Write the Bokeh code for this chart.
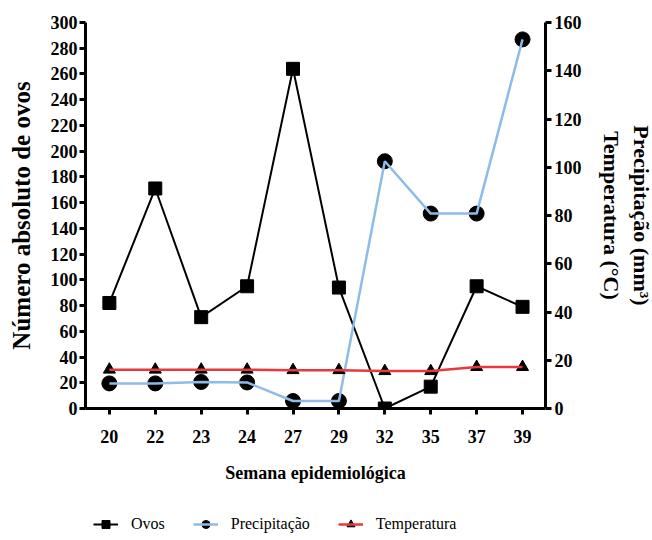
import math
from bokeh.plotting import figure
from bokeh.layouts import column
from bokeh.models import (Range1d, LinearAxis, FixedTicker, Legend, LegendItem,
                          ColumnDataSource)
from bokeh.embed import file_html
from bokeh.resources import INLINE

# ---- data ----
weeks = ["20", "22", "23", "24", "27", "29", "32", "35", "37", "39"]
ovos = [82, 171, 71, 95, 264, 94, 0, 17, 95, 79]
precipitacao = [10.4, 10.4, 11.0, 10.8, 3.1, 3.1, 102.5, 80.8, 80.8, 153.0]
temperatura = [16.1, 16.1, 16.1, 16.1, 15.9, 15.9, 15.5, 15.5, 17.2, 17.2]
left_ticks = list(range(0, 301, 20))
right_ticks = list(range(0, 161, 20))

pos = list(range(len(weeks)))
src = ColumnDataSource(dict(x=pos, ovos=ovos, prec=precipitacao, temp=temperatura))

FONT = "Liberation Serif"

p = figure(width=650, height=500, output_backend="svg", toolbar_location=None,
           x_range=Range1d(-0.52, 9.5), y_range=Range1d(0, 300),
           min_border_left=85, min_border_top=22, min_border_right=105,
           min_border_bottom=92, y_axis_location=None)
p.frame_width = 460
p.frame_height = 386
p.outline_line_color = None
p.xgrid.visible = False
p.ygrid.visible = False
p.extra_y_ranges = {"right": Range1d(0, 160)}

def style_axis(ax):
    ax.axis_line_width = 3
    ax.axis_line_color = "black"
    ax.major_tick_line_width = 3
    ax.major_tick_line_color = "black"
    ax.major_tick_out = 6
    ax.major_tick_in = 0
    ax.minor_tick_line_color = None
    ax.major_label_text_font = FONT
    ax.major_label_text_font_style = "bold"
    ax.major_label_text_font_size = "18px"
    ax.major_label_text_color = "black"
    ax.axis_label_text_font = FONT
    ax.axis_label_text_font_style = "bold"
    ax.axis_label_text_color = "black"

# x axis
xa = p.xaxis[0]
style_axis(xa)
xa.ticker = FixedTicker(ticks=pos)
xa.major_label_overrides = {i: w for i, w in zip(pos, weeks)}
xa.major_label_standoff = 15
xa.axis_label = "Semana epidemiológica"
xa.axis_label_text_font_size = "18px"
xa.axis_label_standoff = 17

# left axis
ya = LinearAxis(ticker=FixedTicker(ticks=left_ticks))
style_axis(ya)
ya.major_label_standoff = 2
ya.axis_label = "Número absoluto de ovos"
ya.axis_label_text_font_size = "25px"
ya.axis_label_standoff = 13
p.add_layout(ya, "left")

# right axis
yr = LinearAxis(y_range_name="right", ticker=FixedTicker(ticks=right_ticks))
style_axis(yr)
yr.major_label_standoff = 3
yr.axis_label = "Precipitação (mm³)\nTemperatura (°C)"
yr.axis_label_text_font_size = "22px"
yr.axis_label_standoff = 14
p.add_layout(yr, "right")

# glyphs
p.line("x", "ovos", source=src, line_color="black", line_width=2)
p.scatter("x", "ovos", source=src, marker="square", size=13,
          fill_color="black", line_color="black")
p.scatter("x", "prec", source=src, marker="circle", size=15,
          fill_color="black", line_color="black", y_range_name="right")
p.line("x", "prec", source=src, line_color="#8fbbe8", line_width=2.5,
       y_range_name="right")
p.scatter("x", "temp", source=src, marker="triangle", size=12,
          fill_color="black", line_color="black", y_range_name="right")
p.line("x", "temp", source=src, line_color="#e8383d", line_width=2.5,
       y_range_name="right")

# legend strip below the chart (its renderers hold one point outside the view)
lg = figure(width=650, height=40, output_backend="svg", toolbar_location=None,
            x_range=Range1d(0, 1), y_range=Range1d(0, 1), min_border=0,
            x_axis_location=None, y_axis_location=None)
lg.outline_line_color = None
lg.xgrid.visible = False
lg.ygrid.visible = False
off = ColumnDataSource(dict(x=[-10, -11], y=[-10, -11]))
g_ol = lg.line("x", "y", source=off, line_color="black", line_width=2)
g_om = lg.scatter("x", "y", source=off, marker="square", size=13,
                  fill_color="black", line_color="black")
g_pm = lg.scatter("x", "y", source=off, marker="circle", size=15,
                  fill_color="black", line_color="black")
g_pl = lg.line("x", "y", source=off, line_color="#8fbbe8", line_width=2.5)
g_tm = lg.scatter("x", "y", source=off, marker="triangle", size=12,
                  fill_color="black", line_color="black")
g_tl = lg.line("x", "y", source=off, line_color="#e8383d", line_width=2.5)

legend = Legend(items=[LegendItem(label="Ovos", renderers=[g_ol, g_om]),
                       LegendItem(label="Precipitação", renderers=[g_pm, g_pl]),
                       LegendItem(label="Temperatura", renderers=[g_tm, g_tl])],
                location=(8, 6), orientation="horizontal",
                glyph_width=25, glyph_height=20, label_standoff=13, spacing=28,
                padding=0, margin=0, border_line_color=None,
                background_fill_alpha=0, label_text_font=FONT,
                label_text_font_size="16px", label_text_color="black")
lg.add_layout(legend)

layout = column(p, lg, spacing=0)
open("out.html", "w").write(file_html(layout, INLINE))
